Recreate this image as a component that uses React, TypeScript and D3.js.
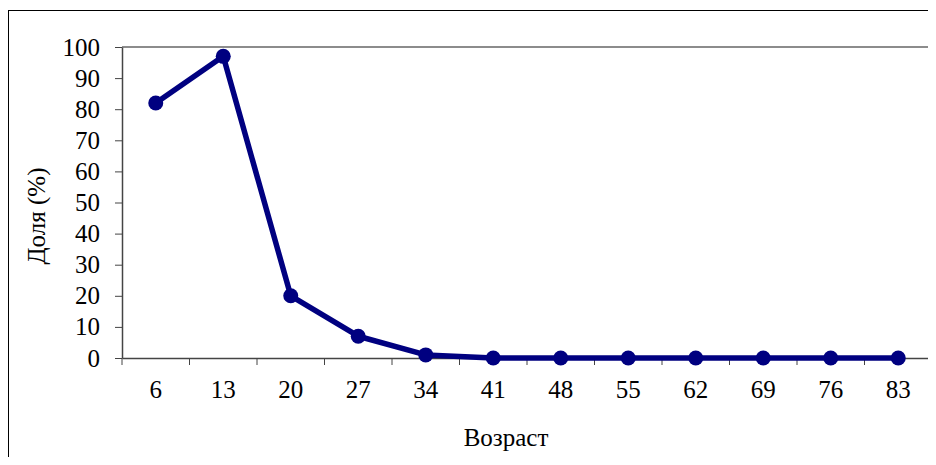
import { useEffect, useRef } from 'react';
import * as d3 from 'd3';

const ages = ['6', '13', '20', '27', '34', '41', '48', '55', '62', '69', '76', '83'];
const shares = [82, 97, 20, 7, 1, 0, 0, 0, 0, 0, 0, 0];
const yTicks = [0, 10, 20, 30, 40, 50, 60, 70, 80, 90, 100];

export default function App() {
  const svgRef = useRef<SVGSVGElement>(null);

  useEffect(() => {
    const svg = d3.select(svgRef.current);
    svg.selectAll('*').remove();

    const W = 936;
    const H = 465;
    const margin = { top: 47, right: 4, bottom: 107, left: 122 };
    const width = W - margin.left - margin.right;
    const height = H - margin.top - margin.bottom;
    const font = '"Liberation Serif", "Times New Roman", serif';
    const fs = 25;

    svg.attr('width', W).attr('height', H);

    // outer chart frame
    svg.append('rect')
      .attr('x', 8.5).attr('y', 10.5)
      .attr('width', 940).attr('height', 470)
      .attr('fill', 'white').attr('stroke', 'black').attr('stroke-width', 1);

    const g = svg.append('g').attr('transform', `translate(${margin.left},${margin.top})`);

    const x = d3.scaleBand().domain(ages).range([0, width]).padding(0);
    const y = d3.scaleLinear().domain([0, 100]).range([height, 0]);

    // plot area frame (gray)
    g.append('path')
      .attr('d', `M0,0H${width}V${height}`)
      .attr('fill', 'none').attr('stroke', '#8c8c8c').attr('stroke-width', 2);

    // y axis
    const yAxis = g.append('g')
      .call(d3.axisLeft(y).tickValues(yTicks).tickSize(7).tickPadding(15).tickSizeOuter(0));
    yAxis.select('.domain').attr('stroke', '#444').attr('stroke-width', 1.5);
    yAxis.selectAll('.tick line').attr('stroke', '#444');
    yAxis.selectAll('text').attr('font-family', font).attr('font-size', fs).attr('fill', 'black');

    // x axis
    const xAxis = g.append('g').attr('transform', `translate(0,${height})`)
      .call(d3.axisBottom(x).tickSize(0).tickPadding(22));
    xAxis.select('.domain').attr('stroke', '#444').attr('stroke-width', 1.5);
    xAxis.selectAll('text').attr('font-family', font).attr('font-size', fs).attr('fill', 'black');

    const boundaries = d3.range(ages.length + 1).map((i) => i * x.step());
    g.append('g').selectAll('line').data(boundaries).enter().append('line')
      .attr('x1', (d) => d).attr('x2', (d) => d)
      .attr('y1', height).attr('y2', height + 7)
      .attr('stroke', '#444').attr('stroke-width', 1);

    const cx = (i: number) => x(ages[i])! + x.bandwidth() / 2;

    const line = d3.line<number>().x((_, i) => cx(i)).y((d) => y(d));
    g.append('path')
      .datum(shares)
      .attr('d', line)
      .attr('fill', 'none')
      .attr('stroke', '#000080')
      .attr('stroke-width', 5.5)
      .attr('stroke-linejoin', 'round');

    g.selectAll('.pt').data(shares).enter().append('circle')
      .attr('class', 'pt')
      .attr('cx', (_, i) => cx(i))
      .attr('cy', (d) => y(d))
      .attr('r', 7.5)
      .attr('fill', '#000080');

    // axis titles
    svg.append('text')
      .attr('x', 506).attr('y', 446)
      .attr('text-anchor', 'middle')
      .attr('font-family', font).attr('font-size', fs)
      .text('Возраст');

    svg.append('text')
      .attr('transform', `translate(45,216) rotate(-90)`)
      .attr('text-anchor', 'middle')
      .attr('font-family', font).attr('font-size', fs)
      .text('Доля (%)');
  }, []);

  return (
    <div style={{ margin: -8 }}>
      <svg ref={svgRef} style={{ display: 'block' }}></svg>
    </div>
  );
}
